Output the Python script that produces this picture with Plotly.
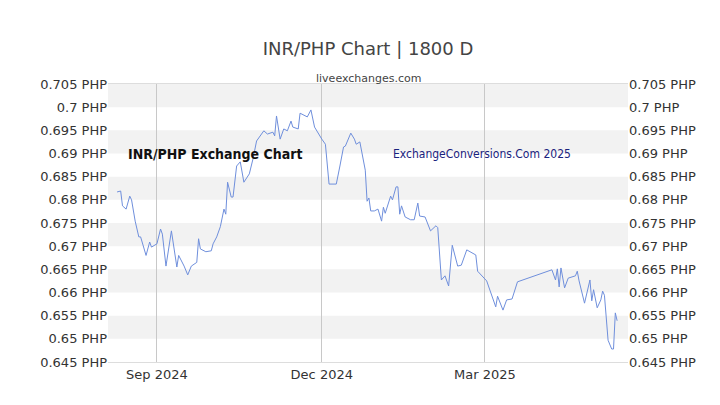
import plotly.graph_objects as go

dates = ["2024-08-10", "2024-08-12", "2024-08-13", "2024-08-15", "2024-08-17", "2024-08-18",
         "2024-08-20", "2024-08-22", "2024-08-23", "2024-08-26", "2024-08-28", "2024-08-29",
         "2024-09-01", "2024-09-03", "2024-09-04", "2024-09-06", "2024-09-09", "2024-09-12",
         "2024-09-13", "2024-09-16", "2024-09-18", "2024-09-20", "2024-09-23", "2024-09-24",
         "2024-09-25", "2024-09-28", "2024-10-01", "2024-10-02", "2024-10-04", "2024-10-06",
         "2024-10-08", "2024-10-09", "2024-10-10", "2024-10-12", "2024-10-13", "2024-10-15",
         "2024-10-17", "2024-10-19", "2024-10-22", "2024-10-24", "2024-10-26", "2024-10-28",
         "2024-10-30", "2024-11-01", "2024-11-04", "2024-11-05", "2024-11-06", "2024-11-08",
         "2024-11-10", "2024-11-12", "2024-11-14", "2024-11-15", "2024-11-18", "2024-11-19",
         "2024-11-23", "2024-11-25", "2024-11-27", "2024-12-01", "2024-12-03", "2024-12-05",
         "2024-12-09", "2024-12-11", "2024-12-13", "2024-12-14", "2024-12-17", "2024-12-19",
         "2024-12-20", "2024-12-22", "2024-12-25", "2024-12-26", "2024-12-27", "2024-12-28",
         "2024-12-30", "2025-01-01", "2025-01-03", "2025-01-04", "2025-01-05", "2025-01-08",
         "2025-01-09", "2025-01-11", "2025-01-12", "2025-01-13", "2025-01-14", "2025-01-16",
         "2025-01-19", "2025-01-21", "2025-01-23", "2025-01-24", "2025-01-27", "2025-01-30",
         "2025-02-02", "2025-02-03", "2025-02-05", "2025-02-07", "2025-02-09", "2025-02-11",
         "2025-02-14", "2025-02-16", "2025-02-19", "2025-02-24", "2025-02-25", "2025-03-02",
         "2025-03-04", "2025-03-07", "2025-03-08", "2025-03-11", "2025-03-13", "2025-03-16",
         "2025-03-19", "2025-04-07", "2025-04-09", "2025-04-10", "2025-04-11", "2025-04-12",
         "2025-04-14", "2025-04-16", "2025-04-20", "2025-04-21", "2025-04-22", "2025-04-25",
         "2025-04-28", "2025-04-29", "2025-04-30", "2025-05-02", "2025-05-04", "2025-05-05",
         "2025-05-06", "2025-05-08", "2025-05-10", "2025-05-11", "2025-05-12", "2025-05-13"]

rates = [0.6817, 0.6819, 0.6787, 0.6780, 0.6808, 0.6800, 0.6754, 0.6720, 0.6720, 0.6680,
         0.6709, 0.6698, 0.6705, 0.6737, 0.6726, 0.6657, 0.6733, 0.6655, 0.6680, 0.6657,
         0.6638, 0.6657, 0.6665, 0.6716, 0.6694, 0.6688, 0.6690, 0.6705, 0.6720, 0.6742,
         0.6780, 0.6769, 0.6838, 0.6806, 0.6806, 0.6873, 0.6882, 0.6838, 0.6856, 0.6888,
         0.6927, 0.6938, 0.6949, 0.6942, 0.6946, 0.6938, 0.6981, 0.6931, 0.6953, 0.6949,
         0.6970, 0.6957, 0.6953, 0.6987, 0.6979, 0.6994, 0.6957, 0.6931, 0.6920, 0.6834,
         0.6834, 0.6873, 0.6914, 0.6916, 0.6944, 0.6931, 0.6920, 0.6925, 0.6864, 0.6797,
         0.6804, 0.6776, 0.6776, 0.6780, 0.6754, 0.6784, 0.6771, 0.6808, 0.6800, 0.6828,
         0.6828, 0.6769, 0.6787, 0.6763, 0.6757, 0.6757, 0.6793, 0.6765, 0.6763, 0.6733,
         0.6744, 0.6740, 0.6627, 0.6636, 0.6614, 0.6702, 0.6657, 0.6659, 0.6692, 0.6681,
         0.6646, 0.6625, 0.6603, 0.6569, 0.6592, 0.6562, 0.6584, 0.6586, 0.6623, 0.6649,
         0.6627, 0.6651, 0.6612, 0.6653, 0.6610, 0.6631, 0.6636, 0.6646, 0.6625, 0.6577,
         0.6627, 0.6582, 0.6606, 0.6567, 0.6584, 0.6603, 0.6594, 0.6497, 0.6478, 0.6478,
         0.6556, 0.6539]

tick_dates = ["2024-09-01", "2024-12-01", "2025-03-01"]
tick_text = ["Sep 2024", "Dec 2024", "Mar 2025"]
y_ticks = [0.645, 0.65, 0.655, 0.66, 0.665, 0.67, 0.675, 0.68, 0.685, 0.69, 0.695, 0.7, 0.705]
y_text = [("%.3f" % v).rstrip("0").rstrip(".") + " PHP" for v in y_ticks]
stripes = [0.650, 0.660, 0.670, 0.680, 0.690, 0.700]

fig = go.Figure()
fig.add_trace(go.Scatter(x=dates, y=rates, mode="lines",
                         line=dict(color="#6f8fdc", width=1), hoverinfo="x+y"))
fig.add_trace(go.Scatter(x=dates, y=rates, yaxis="y2", mode="lines",
                         line=dict(width=0), opacity=0, hoverinfo="skip"))

for s in stripes:
    fig.add_shape(type="rect", xref="paper", x0=0, x1=1, y0=s, y1=s + 0.005,
                  fillcolor="#f2f2f2", line_width=0, layer="below")

axis_font = dict(family="DejaVu Sans", size=13, color="#333")
narrow = "Liberation Sans Narrow, DejaVu Sans Condensed, Arial Narrow"
fig.update_layout(
    width=720, height=405, showlegend=False,
    paper_bgcolor="white", plot_bgcolor="white",
    margin=dict(l=100, r=100, t=76, b=51, autoexpand=False),
    title=dict(text="INR/PHP Chart | 1800 D", x=0.5, y=0.9, yanchor="middle", xanchor="center",
               font=dict(family="DejaVu Sans", size=18, color="#444")),
    xaxis=dict(range=["2024-08-05", "2025-05-19"], tickvals=tick_dates, ticktext=tick_text,
               showgrid=True, gridcolor="#c8c8c8", tickfont=axis_font, ticks="",
               showline=True, linecolor="#ddd", mirror=True, zeroline=False, automargin=False),
    yaxis=dict(range=[0.645, 0.705], tickvals=y_ticks, ticktext=y_text, showgrid=False,
               tickfont=axis_font, zeroline=False, automargin=False),
    yaxis2=dict(range=[0.645, 0.705], tickvals=y_ticks, ticktext=y_text, overlaying="y",
                side="right", showgrid=False, tickfont=axis_font, zeroline=False, automargin=False),
    annotations=[
        dict(text="liveexchanges.com", xref="paper", yref="paper", x=0.5, y=1.05,
             showarrow=False, font=dict(family="DejaVu Sans", size=11, color="#444")),
        dict(text="<b>INR/PHP Exchange Chart</b>", xref="paper", yref="paper", x=0.035, y=0.785,
             xanchor="left", showarrow=False,
             font=dict(family=narrow, size=14, color="#111")),
        dict(text="ExchangeConversions.Com 2025", xref="paper", yref="paper", x=0.545, y=0.78,
             xanchor="left", showarrow=False,
             font=dict(family=narrow, size=12, color="#1a237e")),
    ],
)

fig.write_html("out.html")
